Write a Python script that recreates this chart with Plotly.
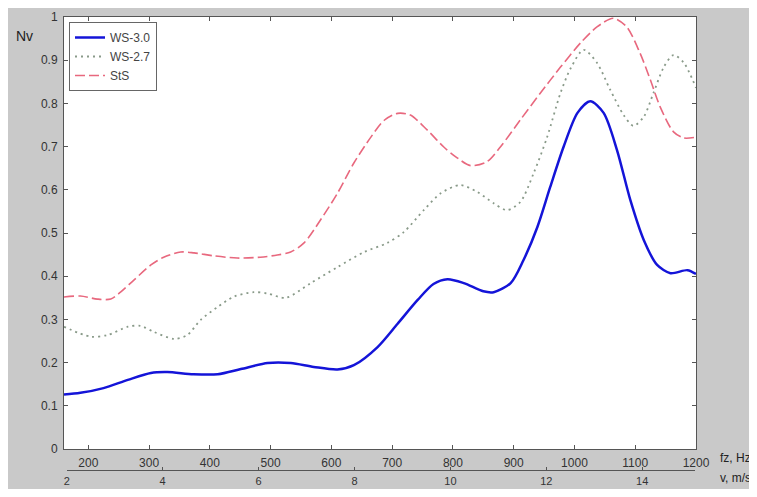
import plotly.graph_objects as go

# ---- data ----
ws30_hz = [160, 187, 225, 265, 303, 330, 373, 413, 451, 495, 533, 571, 610, 637, 676, 709, 742, 768,
           791, 818, 850, 867, 895, 916, 939, 960, 982, 1005, 1026, 1048, 1070, 1092, 1114, 1136, 1158, 1186, 1200]
ws30_nv = [0.126, 0.13, 0.141, 0.16, 0.176, 0.178, 0.173, 0.173, 0.185, 0.199, 0.199, 0.19, 0.184, 0.194,
           0.236, 0.29, 0.345, 0.382, 0.393, 0.384, 0.365, 0.363, 0.384, 0.437, 0.514, 0.606, 0.699, 0.778,
           0.805, 0.778, 0.692, 0.576, 0.484, 0.426, 0.407, 0.414, 0.405]

ws27_hz = [160, 204, 232, 265, 286, 308, 341, 363, 385, 413, 440, 472, 495, 525, 566, 610, 654, 692, 719,
           752, 780, 812, 840, 867, 889, 911, 933, 955, 977, 994, 1015, 1037, 1059, 1081, 1097, 1114, 1130,
           1147, 1163, 1180, 1200]
ws27_nv = [0.283, 0.26, 0.264, 0.283, 0.285, 0.271, 0.255, 0.264, 0.299, 0.329, 0.353, 0.363, 0.36, 0.35,
           0.384, 0.421, 0.456, 0.477, 0.502, 0.553, 0.592, 0.611, 0.595, 0.569, 0.553, 0.572, 0.639, 0.722,
           0.824, 0.882, 0.924, 0.894, 0.831, 0.773, 0.748, 0.769, 0.824, 0.884, 0.912, 0.894, 0.836]

sts_hz = [160, 187, 215, 237, 253, 275, 303, 324, 352, 374, 407, 445, 483, 511, 533, 555, 582, 610, 637,
          665, 687, 709, 730, 758, 785, 807, 829, 856, 878, 911, 944, 977, 1010, 1037, 1064, 1086, 1108,
          1125, 1141, 1163, 1180, 1200]
sts_nv = [0.352, 0.354, 0.347, 0.347, 0.363, 0.391, 0.426, 0.444, 0.456, 0.454, 0.447, 0.442, 0.444,
          0.449, 0.456, 0.477, 0.530, 0.592, 0.662, 0.722, 0.761, 0.777, 0.773, 0.738, 0.699, 0.674,
          0.656, 0.665, 0.699, 0.762, 0.824, 0.884, 0.94, 0.977, 0.997, 0.977, 0.916, 0.854, 0.792,
          0.734, 0.72, 0.722]

fz_ticks = [200, 300, 400, 500, 600, 700, 800, 900, 1000, 1100, 1200]
v_ticks = [2, 4, 6, 8, 10, 12, 14]
nv_ticks = [0, 0.1, 0.2, 0.3, 0.4, 0.5, 0.6, 0.7, 0.8, 0.9, 1]
nv_labels = ["0", "0.1", "0.2", "0.3", "0.4", "0.5", "0.6", "0.7", "0.8", "0.9", "1"]

FONT = "Liberation Sans, Arial, sans-serif"
OFF = 8  # default page body margin
W, H = 757 - OFF, 497 - 2 * OFF   # keep page height inside the window (no scrolling)
L, R, T, B = 56, 61, 9, 19
PW, PH = W - L - R, H - T - B
SCR_L = L + OFF        # plot left edge in screen px
SCR_B = T + PH + OFF   # velocity axis line in screen px


def px(xs):
    return (xs - SCR_L) / PW


def py(ys):
    return (SCR_B - ys) / PH


fig = go.Figure()
fig.add_trace(go.Scatter(x=ws30_hz, y=ws30_nv, name="WS-3.0", mode="lines",
                         line=dict(color="#1414d8", width=2.5, shape="spline", smoothing=0.8)))
fig.add_trace(go.Scatter(x=ws27_hz, y=ws27_nv, name="WS-2.7", mode="lines",
                         line=dict(color="#899a89", width=1.8, dash="2px,4px", shape="spline", smoothing=0.8)))
fig.add_trace(go.Scatter(x=sts_hz, y=sts_nv, name="StS", mode="lines",
                         line=dict(color="#e8687e", width=1.6, dash="10px,4px", shape="spline", smoothing=0.8)))
# carrier for the second (velocity) axis, no visible mark
fig.add_trace(go.Scatter(x=v_ticks, y=[None] * len(v_ticks), xaxis="x2", yaxis="y",
                         mode="lines", showlegend=False, hoverinfo="skip"))

ydom0 = py(449)

axis_common = dict(showline=True, linecolor="#555555", linewidth=1, ticks="inside",
                   tickcolor="#555555", showgrid=False, zeroline=False, automargin=False)

fig.update_layout(
    width=W, height=H,
    margin=dict(l=L, r=R, t=T, b=B, pad=0, autoexpand=False),
    paper_bgcolor="#c9c9c9", plot_bgcolor="rgba(0,0,0,0)",
    font=dict(family=FONT, size=12, color="#333333"),
    xaxis=dict(range=[160, 1200], tickvals=fz_ticks, mirror="ticks", anchor="y", ticklen=4,
               ticklabelstandoff=3, tickfont=dict(family=FONT, size=12, color="#333333"),
               **axis_common),
    yaxis=dict(range=[0, 1], tickvals=nv_ticks, ticktext=nv_labels, mirror="ticks", ticklen=4,
               domain=[ydom0, 1], ticklabelstandoff=3,
               tickfont=dict(family=FONT, size=12, color="#333333"), **axis_common),
    xaxis2=dict(range=[2, 15.1], tickvals=v_ticks, anchor="free", position=0, ticklen=3,
                domain=[px(66.7), px(695)], side="bottom", ticklabelstandoff=1,
                tickfont=dict(family=FONT, size=11, color="#333333"), **axis_common),
    legend=dict(x=px(69), y=py(22), xanchor="left", yanchor="top",
                bgcolor="#ffffff", bordercolor="#666666", borderwidth=1,
                font=dict(family=FONT, size=12, color="#444444"), itemwidth=30,
                tracegroupgap=0),
    showlegend=True,
    annotations=[
        dict(text="Nv", xref="paper", yref="paper", x=px(24), y=py(36),
             xanchor="center", yanchor="middle",
             showarrow=False, font=dict(family=FONT, size=14, color="#222222")),
        dict(text="fz, Hz", xref="paper", yref="paper", x=px(718), y=py(458),
             xanchor="left", yanchor="middle", showarrow=False,
             font=dict(family=FONT, size=12, color="#222222")),
        dict(text="v, m/s", xref="paper", yref="paper", x=px(718), y=py(478),
             xanchor="left", yanchor="middle", showarrow=False,
             font=dict(family=FONT, size=12, color="#222222")),
    ],
    shapes=[
        dict(type="rect", xref="x domain", yref="y domain", x0=0, x1=1, y0=0, y1=1,
             fillcolor="#ffffff", line=dict(width=0), layer="below"),
    ],
)

fig.write_html("out.html")
